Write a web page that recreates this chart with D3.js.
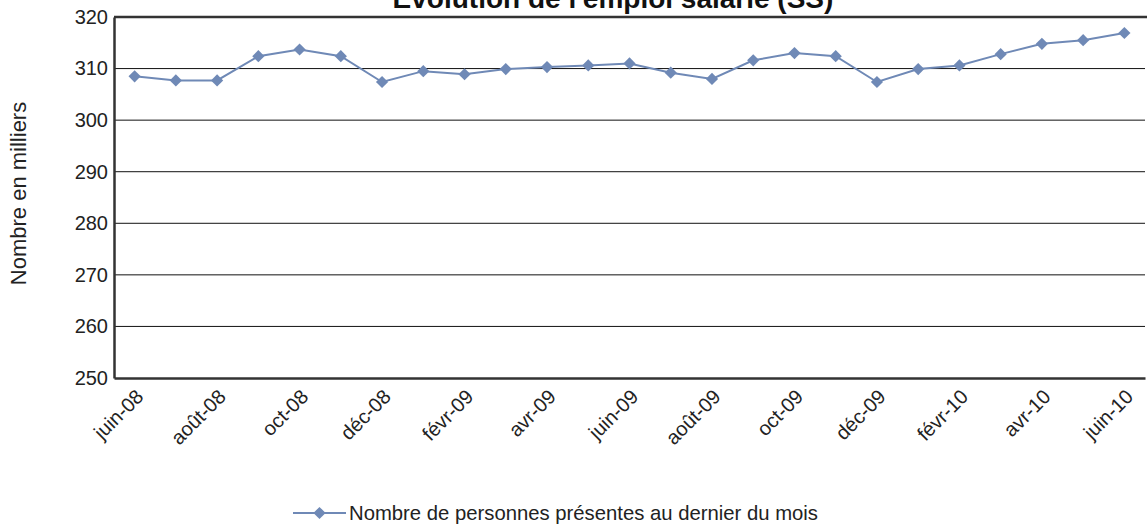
<!DOCTYPE html>
<html>
<head>
<meta charset="utf-8">
<script src="https://cdn.jsdelivr.net/npm/d3@7"></script>
<style>
  body { margin: 0; background: #fff; }
  svg { display: block; font-family: "Liberation Sans", Arial, sans-serif; }
</style>
</head>
<body>
<div id="chart"></div>
<script>
const months = [
  "juin-08", "juil-08", "août-08", "sept-08", "oct-08", "nov-08", "déc-08",
  "janv-09", "févr-09", "mars-09", "avr-09", "mai-09", "juin-09", "juil-09",
  "août-09", "sept-09", "oct-09", "nov-09", "déc-09", "janv-10", "févr-10",
  "mars-10", "avr-10", "mai-10", "juin-10"
];
const effectifs = [
  308.5, 307.7, 307.7, 312.4, 313.7, 312.4, 307.4,
  309.5, 308.9, 309.9, 310.3, 310.6, 311.0, 309.2,
  308.0, 311.6, 313.0, 312.4, 307.4, 309.9, 310.6,
  312.8, 314.8, 315.5, 316.9
];
const yTicks = [250, 260, 270, 280, 290, 300, 310, 320];
const shownLabels = months.filter((m, i) => i % 2 === 0);

const width = 1147, height = 526;
const margin = { top: 17, right: 2, bottom: 148, left: 114 };
const lineColor = "#6f89b6";
const font = "Liberation Sans, Arial, sans-serif";

const svg = d3.select("#chart").append("svg")
  .attr("width", width).attr("height", height);

const x = d3.scaleBand().domain(months)
  .range([margin.left, width - margin.right]);
const y = d3.scaleLinear().domain([250, 320])
  .range([height - margin.bottom, margin.top]);

// gridlines
svg.append("g")
  .selectAll("line")
  .data(yTicks.slice(1, -1))
  .join("line")
  .attr("x1", margin.left).attr("x2", width - margin.right)
  .attr("y1", d => y(d)).attr("y2", d => y(d))
  .attr("stroke", "#111").attr("stroke-width", 1);

// top border
svg.append("line")
  .attr("x1", margin.left).attr("x2", width)
  .attr("y1", y(320)).attr("y2", y(320))
  .attr("stroke", "#333").attr("stroke-width", 2.5);

// y axis
const yAxis = svg.append("g")
  .attr("transform", `translate(${margin.left},0)`)
  .call(d3.axisLeft(y).tickValues(yTicks).tickSize(0).tickPadding(6));
yAxis.select(".domain").attr("stroke", "#333").attr("stroke-width", 2.5);
yAxis.selectAll("text").attr("font-size", 20).attr("fill", "#222")
  .attr("font-family", font);

// x axis
const xAxis = svg.append("g")
  .attr("transform", `translate(0,${y(250)})`)
  .call(d3.axisBottom(x).tickValues(shownLabels).tickSize(0).tickPadding(0));
xAxis.select(".domain").attr("stroke", "#333").attr("stroke-width", 2.5);
xAxis.selectAll("text")
  .attr("font-size", 20).attr("fill", "#222")
  .attr("font-family", font)
  .attr("text-anchor", "end")
  .attr("dy", 0)
  .attr("transform", "translate(10,20) rotate(-45)");

// y title
svg.append("text")
  .attr("transform", `translate(26,${(y(250) + y(320)) / 2 - 4}) rotate(-90)`)
  .attr("text-anchor", "middle")
  .attr("font-size", 22).attr("fill", "#222")
  .text("Nombre en milliers");

// chart title
svg.append("text")
  .attr("x", 613).attr("y", 8)
  .attr("text-anchor", "middle")
  .attr("font-size", 28).attr("font-weight", "bold").attr("fill", "#111")
  .text("Evolution de l'emploi salarié  (SS)");

// series
const cx = d => x(d) + x.bandwidth() / 2;
svg.append("path")
  .datum(effectifs)
  .attr("fill", "none").attr("stroke", lineColor).attr("stroke-width", 2)
  .attr("d", d3.line().x((d, i) => cx(months[i])).y(d => y(d)));

const diamond = d3.symbol().type(d3.symbolDiamond2).size(95);
svg.append("g")
  .selectAll("path")
  .data(effectifs)
  .join("path")
  .attr("transform", (d, i) => `translate(${cx(months[i])},${y(d)})`)
  .attr("d", diamond)
  .attr("fill", lineColor);

// legend
const lg = svg.append("g").attr("transform", "translate(293,513)");
lg.append("line").attr("x1", 0).attr("x2", 53)
  .attr("stroke", lineColor).attr("stroke-width", 2);
lg.append("path").attr("transform", "translate(26.5,0)").attr("d", diamond)
  .attr("fill", lineColor);
lg.append("text").attr("x", 56).attr("y", 7)
  .attr("font-size", 20.3).attr("fill", "#222")
  .text("Nombre de personnes présentes au dernier du mois");
</script>
</body>
</html>
